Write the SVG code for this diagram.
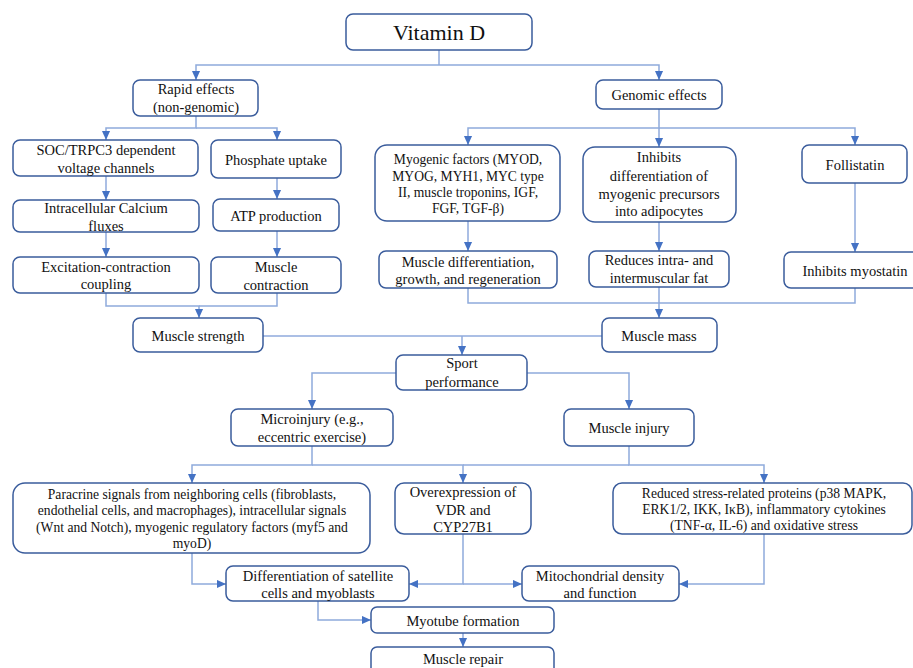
<svg xmlns="http://www.w3.org/2000/svg" width="913" height="668" viewBox="0 0 913 668">
<style>
.box{fill:#fff;stroke:#3A5C9C;stroke-width:1.5}
.t text{fill:#111;text-anchor:middle;font-size:14.5px}
.t .s{font-size:13.6px}
.t .big{font-size:22px}
.con path{fill:none;stroke:#8FAADC;stroke-width:1.5}
</style>
<defs>
<marker id="ar" viewBox="0 0 10 10" refX="10" refY="5" markerWidth="9" markerHeight="9" markerUnits="userSpaceOnUse" orient="auto">
<path d="M0,0.5 L10,5 L0,9.5 z" fill="#4472C4"/>
</marker>
</defs>
<rect width="913" height="668" fill="#fff"/>
<g class="con">
<path d="M439,50 V65"/>
<path d="M439,65 H196 V80" marker-end="url(#ar)"/>
<path d="M439,65 H659 V80" marker-end="url(#ar)"/>
<path d="M196,116 V128 H106 V140" marker-end="url(#ar)"/>
<path d="M196,128 H277 V140" marker-end="url(#ar)"/>
<path d="M106,176 V200" marker-end="url(#ar)"/>
<path d="M277,178 V199" marker-end="url(#ar)"/>
<path d="M106,232 V257" marker-end="url(#ar)"/>
<path d="M277,231 V257" marker-end="url(#ar)"/>
<path d="M106,293 V306 H199 V318" marker-end="url(#ar)"/>
<path d="M277,293 V306 H199"/>
<path d="M659,109 V128 H468 V145" marker-end="url(#ar)"/>
<path d="M659,128 V147" marker-end="url(#ar)"/>
<path d="M659,128 H855 V145" marker-end="url(#ar)"/>
<path d="M468,221 V251" marker-end="url(#ar)"/>
<path d="M659,222 V251" marker-end="url(#ar)"/>
<path d="M855,183 V252" marker-end="url(#ar)"/>
<path d="M468,288 V303 H659 V318" marker-end="url(#ar)"/>
<path d="M855,288 V303 H659"/>
<path d="M659,287 V303"/>
<path d="M263,336 H602"/>
<path d="M462,336 V355" marker-end="url(#ar)"/>
<path d="M396,373 H312 V409" marker-end="url(#ar)"/>
<path d="M527,373 H629 V409" marker-end="url(#ar)"/>
<path d="M312,446 V465 H192 V483" marker-end="url(#ar)"/>
<path d="M312,465 H463 V483" marker-end="url(#ar)"/>
<path d="M629,446 V465 H764 V483" marker-end="url(#ar)"/>
<path d="M629,465 H463"/>
<path d="M192,553 V584 H226" marker-end="url(#ar)"/>
<path d="M463,534 V584 H409" marker-end="url(#ar)"/>
<path d="M463,584 H522" marker-end="url(#ar)"/>
<path d="M764,534 V584 H679" marker-end="url(#ar)"/>
<path d="M318,601 V620 H371" marker-end="url(#ar)"/>
<path d="M463,633 V647" marker-end="url(#ar)"/>
</g>
<g class="t" font-family="'Liberation Serif', 'DejaVu Serif', 'Times New Roman', serif">
<g id="vitamin-d"><rect class="box" x="346" y="14" width="186" height="36" rx="7"/><text class="big" x="439" y="40">Vitamin D</text></g>
<g id="rapid"><rect class="box" x="133" y="80" width="125" height="36" rx="7"/><text x="196" y="94">Rapid effects</text><text x="196" y="112">(non-genomic)</text></g>
<g id="genomic"><rect class="box" x="596" y="80" width="126" height="29" rx="7"/><text x="659" y="100">Genomic effects</text></g>
<g id="soc"><rect class="box" x="13" y="140" width="185" height="36" rx="7"/><text x="106" y="155">SOC/TRPC3 dependent</text><text x="106" y="173">voltage channels</text></g>
<g id="phosphate"><rect class="box" x="211" y="140" width="130" height="38" rx="7"/><text x="276" y="165">Phosphate uptake</text></g>
<g id="calcium"><rect class="box" x="13" y="200" width="186" height="32" rx="7"/><text x="106" y="213">Intracellular Calcium</text><text x="106" y="231">fluxes</text></g>
<g id="atp"><rect class="box" x="213" y="199" width="126" height="32" rx="7"/><text x="276" y="221">ATP production</text></g>
<g id="excitation"><rect class="box" x="13" y="257" width="186" height="36" rx="7"/><text x="106" y="272">Excitation-contraction</text><text x="106" y="289">coupling</text></g>
<g id="contraction"><rect class="box" x="211" y="257" width="130" height="36" rx="7"/><text x="276" y="272">Muscle</text><text x="276" y="290">contraction</text></g>
<g id="strength"><rect class="box" x="133" y="318" width="130" height="34" rx="7"/><text x="198" y="341">Muscle strength</text></g>
<g id="myogenic"><rect class="box" x="375" y="145" width="185" height="76" rx="12"/><text class="s" x="468" y="164">Myogenic factors (MYOD,</text><text class="s" x="468" y="181">MYOG, MYH1, MYC type</text><text class="s" x="468" y="197">II, muscle troponins, IGF,</text><text class="s" x="468" y="213">FGF, TGF-β)</text></g>
<g id="inhibits-diff"><rect class="box" x="583" y="147" width="153" height="75" rx="12"/><text x="659" y="162">Inhibits</text><text x="659" y="181">differentiation of</text><text x="659" y="199">myogenic precursors</text><text x="659" y="216">into adipocytes</text></g>
<g id="follistatin"><rect class="box" x="802" y="145" width="105" height="38" rx="7"/><text x="855" y="170">Follistatin</text></g>
<g id="muscle-diff"><rect class="box" x="379" y="251" width="178" height="37" rx="7"/><text x="468" y="267">Muscle differentiation,</text><text x="468" y="284">growth, and regeneration</text></g>
<g id="reduces-fat"><rect class="box" x="589" y="251" width="140" height="36" rx="7"/><text x="659" y="265">Reduces intra- and</text><text x="659" y="283">intermuscular fat</text></g>
<g id="myostatin"><rect class="box" x="784" y="252" width="140" height="36" rx="7"/><text x="855" y="276">Inhibits myostatin</text></g>
<g id="mass"><rect class="box" x="602" y="318" width="115" height="34" rx="7"/><text x="659" y="341">Muscle mass</text></g>
<g id="sport"><rect class="box" x="396" y="355" width="131" height="35" rx="7"/><text x="462" y="368">Sport</text><text x="462" y="387">performance</text></g>
<g id="microinjury"><rect class="box" x="231" y="409" width="162" height="37" rx="7"/><text x="312" y="424">Microinjury (e.g.,</text><text x="312" y="442">eccentric exercise)</text></g>
<g id="injury"><rect class="box" x="564" y="409" width="130" height="37" rx="7"/><text x="629" y="433">Muscle injury</text></g>
<g id="paracrine"><rect class="box" x="13" y="483" width="357" height="70" rx="12"/><text class="s" x="192" y="499">Paracrine signals from neighboring cells (fibroblasts,</text><text class="s" x="192" y="515">endothelial cells, and macrophages), intracellular signals</text><text class="s" x="192" y="532">(Wnt and Notch), myogenic regulatory factors (myf5 and</text><text class="s" x="192" y="548">myoD)</text></g>
<g id="overexpression"><rect class="box" x="395" y="483" width="136" height="51" rx="9"/><text x="463" y="497">Overexpression of</text><text x="463" y="515">VDR and</text><text x="463" y="532">CYP27B1</text></g>
<g id="reduced"><rect class="box" x="613" y="483" width="299" height="51" rx="9"/><text class="s" x="764" y="498">Reduced stress-related proteins (p38 MAPK,</text><text class="s" x="764" y="514">ERK1/2, IKK, IκB), inflammatory cytokines</text><text class="s" x="764" y="530">(TNF-α, IL-6) and oxidative stress</text></g>
<g id="satellite"><rect class="box" x="226" y="566" width="183" height="35" rx="7"/><text x="318" y="581">Differentiation of satellite</text><text x="318" y="598">cells and myoblasts</text></g>
<g id="mito"><rect class="box" x="522" y="566" width="157" height="35" rx="7"/><text x="600" y="581">Mitochondrial density</text><text x="600" y="598">and function</text></g>
<g id="myotube"><rect class="box" x="371" y="607" width="183" height="26" rx="6"/><text x="463" y="626">Myotube formation</text></g>
<g id="repair"><rect class="box" x="371" y="647" width="183" height="32" rx="6"/><text x="463" y="664">Muscle repair</text></g>
</g>
</svg>
